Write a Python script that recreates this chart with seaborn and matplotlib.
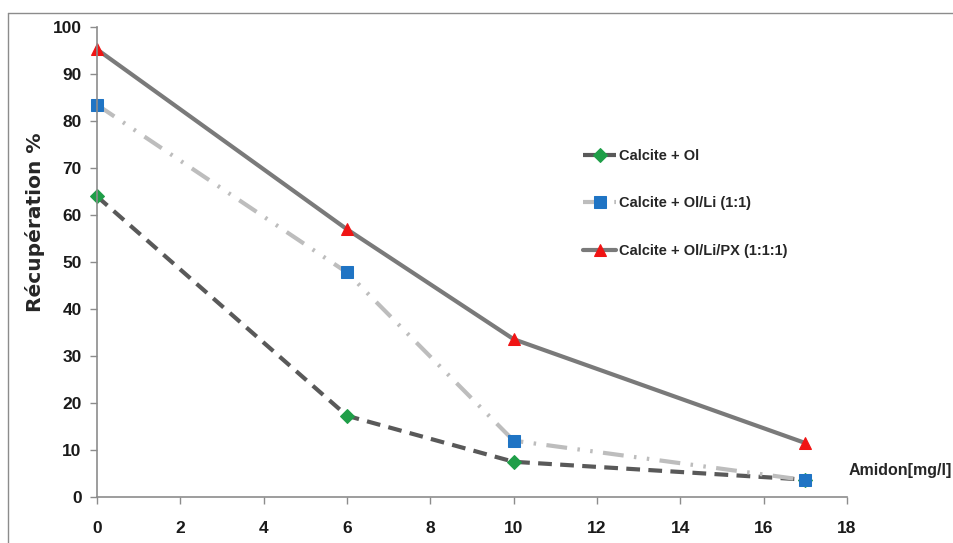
import matplotlib
matplotlib.use("Agg")
import matplotlib.pyplot as plt
import seaborn as sns
import pandas as pd
from matplotlib.lines import Line2D

# Amidon dose (mg/l)
amidon = [0, 6, 10, 17]
calcite_ol = [64.0, 17.3, 7.5, 3.7]
calcite_ol_li = [83.5, 47.8, 12.0, 3.6]
calcite_ol_li_px = [95.3, 57.0, 33.6, 11.5]
series_names = ["Calcite + Ol", "Calcite + Ol/Li (1:1)", "Calcite + Ol/Li/PX (1:1:1)"]

df = pd.DataFrame({
    "amidon": amidon * 3,
    "rec": calcite_ol + calcite_ol_li + calcite_ol_li_px,
    "serie": sum([[n] * len(amidon) for n in series_names], []),
})

sns.set_style("white")
plt.rcParams["font.family"] = ["Liberation Sans", "DejaVu Sans"]

fig = plt.figure(figsize=(9.54, 5.43), dpi=100)
ax = fig.add_axes([0.1017, 0.0847, 0.786, 0.865])

styles = {
    series_names[0]: dict(color="#595959", ls=(0, (3.3, 2)), lw=3.0, marker="D", mfc="#1f9e48", ms=7),
    series_names[1]: dict(color="#bdbdbd", ls=(0, (5, 2.5, 0.6, 2.5, 0.6, 2.5)), lw=3.0, marker="s", mfc="#1f74c4", ms=8),
    series_names[2]: dict(color="#7a7a7a", ls="-", lw=3.0, marker="^", mfc="#f01414", ms=9),
}

for name in series_names:
    st = styles[name]
    sub = df[df["serie"] == name]
    sns.lineplot(data=sub, x="amidon", y="rec", ax=ax, color=st["color"], linestyle=st["ls"],
                 linewidth=st["lw"], marker=st["marker"], markerfacecolor=st["mfc"],
                 markeredgecolor=st["mfc"], markersize=st["ms"], label=name, clip_on=False)

ax.set_xlim(0, 18)
ax.set_ylim(0, 100)
ax.set_xticks(range(0, 19, 2))
ax.set_yticks(range(0, 101, 10))
ax.set_xlabel("")
ax.set_ylabel("Récupération %", family="DejaVu Sans", fontweight="bold", fontsize=14.5)
ax.yaxis.set_label_coords(-0.069, 0.585)
for s in ["top", "right"]:
    ax.spines[s].set_visible(False)
for s in ["left", "bottom"]:
    ax.spines[s].set_color("#8c8c8c")
    ax.spines[s].set_linewidth(1.2)
ax.tick_params(axis="both", which="major", direction="out", length=5, width=1, color="#8c8c8c",
               labelsize=12.5, bottom=True, left=True, labelcolor="#1a1a1a")
ax.tick_params(axis="x", pad=12)
ax.tick_params(axis="y", pad=6)
for lab in ax.get_xticklabels() + ax.get_yticklabels():
    lab.set_fontweight("bold")

leg = ax.legend(loc="center left", bbox_to_anchor=(0.648, 0.625), frameon=False, labelspacing=2.3,
                handlelength=2.3, handletextpad=0.2, borderpad=0, borderaxespad=0,
                prop={"weight": "bold", "size": 10.5})

fig.text(0.889, 0.134, "Amidon[mg/l]", fontsize=11.5, fontweight="bold", ha="left", va="center")

# outer frame of the chart area
fig.add_artist(Line2D([0.0084, 1.0], [0.976, 0.976], transform=fig.transFigure, color="#8c8c8c", lw=1))
fig.add_artist(Line2D([0.0084, 0.0084], [0.0, 0.976], transform=fig.transFigure, color="#8c8c8c", lw=1))

fig.savefig("out.png", dpi=100)
